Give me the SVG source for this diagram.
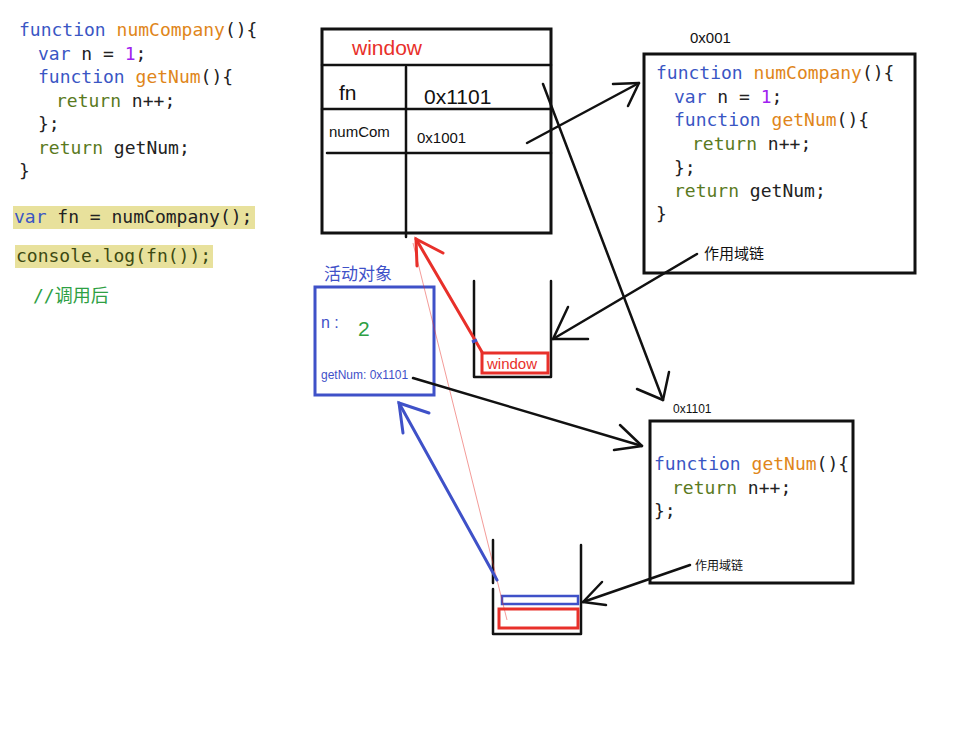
<svg xmlns="http://www.w3.org/2000/svg" width="970" height="737" viewBox="0 0 970 737">
<style>
.code{font-family:"DejaVu Sans Mono","Noto Sans CJK SC",monospace;font-size:18px;fill:#222}
.kw{fill:#3a56c4}.fnm{fill:#e0861a}.num{fill:#a020f0}.ret{fill:#5a7a1e}.cm{fill:#2ea043}
.lbl{font-family:"Liberation Sans","Noto Sans CJK SC",sans-serif;fill:#111}
.box{fill:none;stroke:#111;stroke-width:3}
.ln{fill:none;stroke:#111;stroke-width:2.5;stroke-linecap:round;stroke-linejoin:round}
.red{fill:none;stroke:#e8302a;stroke-width:3;stroke-linecap:round}
.blue{fill:none;stroke:#3f51c8;stroke-width:3;stroke-linecap:round}
</style>
<rect width="970" height="737" fill="#fff"/>

<g id="code-left">
<rect x="13" y="206" width="242" height="23" fill="#e8e19c"/>
<rect x="15" y="245" width="198" height="23" fill="#e8e19c"/>
<text class="code" x="19" y="36"><tspan class="kw">function</tspan> <tspan class="fnm">numCompany</tspan>(){</text>
<text class="code" x="38" y="60"><tspan class="kw">var</tspan> n = <tspan class="num">1</tspan>;</text>
<text class="code" x="38" y="83"><tspan class="kw">function</tspan> <tspan class="fnm">getNum</tspan>(){</text>
<text class="code" x="56" y="107"><tspan class="ret">return</tspan> n++;</text>
<text class="code" x="38" y="130">};</text>
<text class="code" x="38" y="154"><tspan class="ret">return</tspan> getNum;</text>
<text class="code" x="19" y="177">}</text>
<text class="code" x="14" y="223"><tspan class="kw">var</tspan> fn = numCompany();</text>
<text class="code" x="16" y="262" style="fill:#3d4a12">console.log(fn());</text>
<text class="code cm" x="33" y="302">//调用后</text>
</g>

<g id="window-table">
<rect class="box" x="322" y="29" width="229" height="204"/>
<line class="ln" x1="322" y1="65" x2="551" y2="65"/>
<line class="ln" x1="322" y1="109" x2="551" y2="109"/>
<line class="ln" x1="327" y1="153" x2="551" y2="153"/>
<line class="ln" x1="406" y1="67" x2="406" y2="237"/>
<text class="lbl" x="352" y="55" font-size="21" style="fill:#e8302a">window</text>
<text class="lbl" x="339" y="100" font-size="21">fn</text>
<text class="lbl" x="424" y="104" font-size="21">0x1101</text>
<text class="lbl" x="329" y="137" font-size="15">numCom</text>
<text class="lbl" x="417" y="143" font-size="15">0x1001</text>
</g>

<g id="heap-numCompany">
<text class="lbl" x="690" y="43" font-size="15">0x001</text>
<rect class="box" x="644" y="54" width="271" height="219"/>
<text class="code" x="656" y="79"><tspan class="kw">function</tspan> <tspan class="fnm">numCompany</tspan>(){</text>
<text class="code" x="674" y="103"><tspan class="kw">var</tspan> n = <tspan class="num">1</tspan>;</text>
<text class="code" x="674" y="126"><tspan class="kw">function</tspan> <tspan class="fnm">getNum</tspan>(){</text>
<text class="code" x="692" y="150"><tspan class="ret">return</tspan> n++;</text>
<text class="code" x="674" y="174">};</text>
<text class="code" x="674" y="197"><tspan class="ret">return</tspan> getNum;</text>
<text class="code" x="656" y="220">}</text>
<text class="lbl" x="704" y="259" font-size="15">作用域链</text>
</g>

<g id="heap-getNum">
<text class="lbl" x="673" y="413" font-size="12">0x1101</text>
<rect class="box" x="650" y="421" width="203" height="162"/>
<text class="code" x="654" y="470"><tspan class="kw">function</tspan> <tspan class="fnm">getNum</tspan>(){</text>
<text class="code" x="672" y="494"><tspan class="ret">return</tspan> n++;</text>
<text class="code" x="654" y="517">};</text>
<text class="lbl" x="695" y="570" font-size="12">作用域链</text>
</g>

<g id="active-object">
<text class="lbl" x="324" y="280" font-size="17" style="fill:#3f51c8">活动对象</text>
<rect x="315" y="287" width="119" height="108" fill="none" stroke="#3f51c8" stroke-width="3"/>
<text class="lbl" x="321" y="328" font-size="16" style="fill:#3f51c8">n :</text>
<text class="lbl" x="358" y="336" font-size="21" style="fill:#2ea043">2</text>
<text class="lbl" x="321" y="379" font-size="12" style="fill:#3f51c8">getNum: 0x1101</text>
</g>

<g id="stack-1">
<polyline class="ln" points="474,281 474,377 551,377 551,281" stroke-width="3"/>
<rect x="482" y="353" width="66" height="20" fill="none" stroke="#e8302a" stroke-width="3"/>
<text class="lbl" x="487" y="369" font-size="15" style="fill:#e8302a">window</text>
</g>

<g id="stack-2">
<line class="ln" x1="493" y1="540" x2="493" y2="583" stroke-width="3"/>
<polyline class="ln" points="493,589 493,634 581,634 581,545" stroke-width="3"/>
<rect x="502" y="596" width="76" height="8" fill="none" stroke="#3f51c8" stroke-width="2.5"/>
<rect x="499" y="609" width="79" height="19" fill="none" stroke="#e8302a" stroke-width="3"/>
</g>

<g id="connectors">
<line x1="413" y1="243" x2="507" y2="620" stroke="#e8302a" stroke-width="0.8" opacity="0.6"/>
<line class="ln" x1="527" y1="143" x2="639" y2="83"/>
<polyline class="ln" points="613,84 639,83 628,106"/>
<line class="ln" x1="543" y1="84" x2="663" y2="400"/>
<polyline class="ln" points="637,389 663,400 669,372"/>
<line class="ln" x1="697" y1="254" x2="553" y2="339"/>
<polyline class="ln" points="568,307 553,339 588,339"/>
<line class="ln" x1="413" y1="378" x2="642" y2="446"/>
<polyline class="ln" points="620,425 642,446 614,450"/>
<line class="ln" x1="690" y1="565" x2="583" y2="602"/>
<polyline class="ln" points="602,582 583,602 606,605"/>
<line class="red" x1="482" y1="352" x2="416" y2="239"/>
<polyline class="red" points="443,253 416,239 417,266"/>
<line class="blue" x1="497" y1="580" x2="399" y2="403"/>
<polyline class="blue" points="429,413 399,403 403,433"/>
<line x1="472" y1="342" x2="477" y2="340" stroke="#3f51c8" stroke-width="3"/>
</g>
</svg>
